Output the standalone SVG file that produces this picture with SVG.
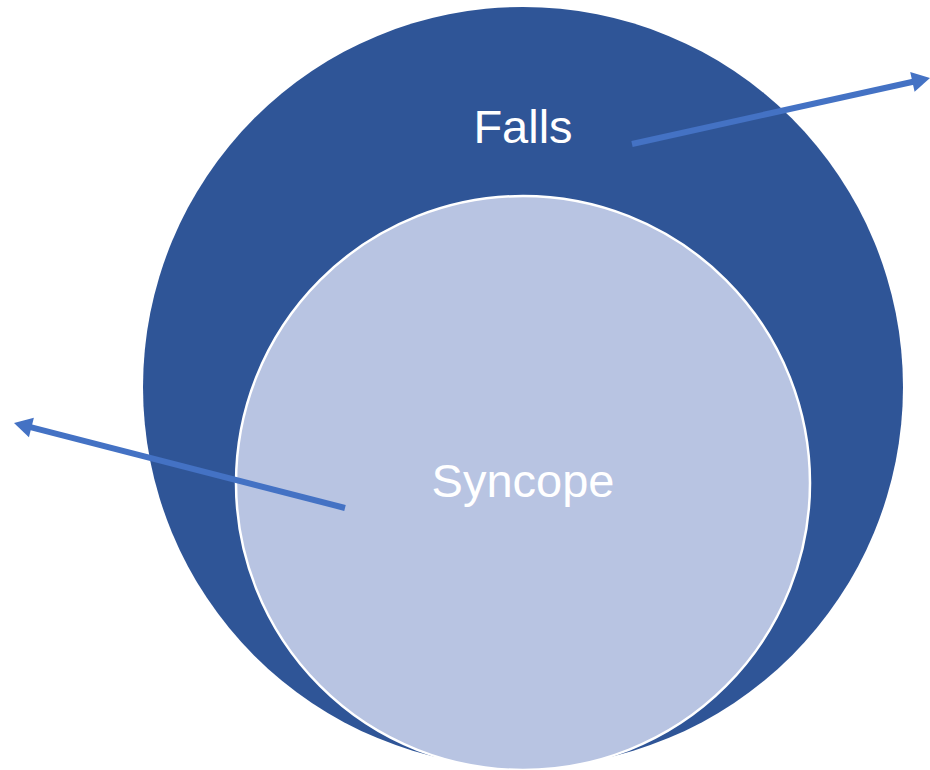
<svg xmlns="http://www.w3.org/2000/svg" width="930" height="770" viewBox="0 0 930 770">
  <style>
    .label { font-family: "Liberation Sans", Arial, sans-serif; font-size: 47px; fill: #ffffff; text-anchor: middle; }
    .conn { stroke: #4472C4; stroke-width: 6; fill: none; }
    .head { fill: #4472C4; }
  </style>
  <rect width="930" height="770" fill="#ffffff"/>
  <g id="falls">
    <circle cx="523" cy="387" r="380" fill="#2F5597"/>
    <text class="label" x="523" y="143">Falls</text>
  </g>
  <g id="syncope">
    <circle cx="523" cy="483" r="287" fill="#B8C4E2" stroke="#ffffff" stroke-width="2.5"/>
    <text class="label" x="523" y="497">Syncope</text>
  </g>
  <g id="connectors">
    <!-- Falls outward arrow -->
    <line class="conn" x1="632" y1="144" x2="915.4" y2="81.2"/>
    <polygon class="head" points="930,78 914.6,91.7 910.2,72.1"/>
    <!-- Syncope outward arrow -->
    <line class="conn" x1="345" y1="508" x2="28.5" y2="426.7"/>
    <polygon class="head" points="14,423 33.9,417.8 28.9,437.2"/>
  </g>
</svg>
